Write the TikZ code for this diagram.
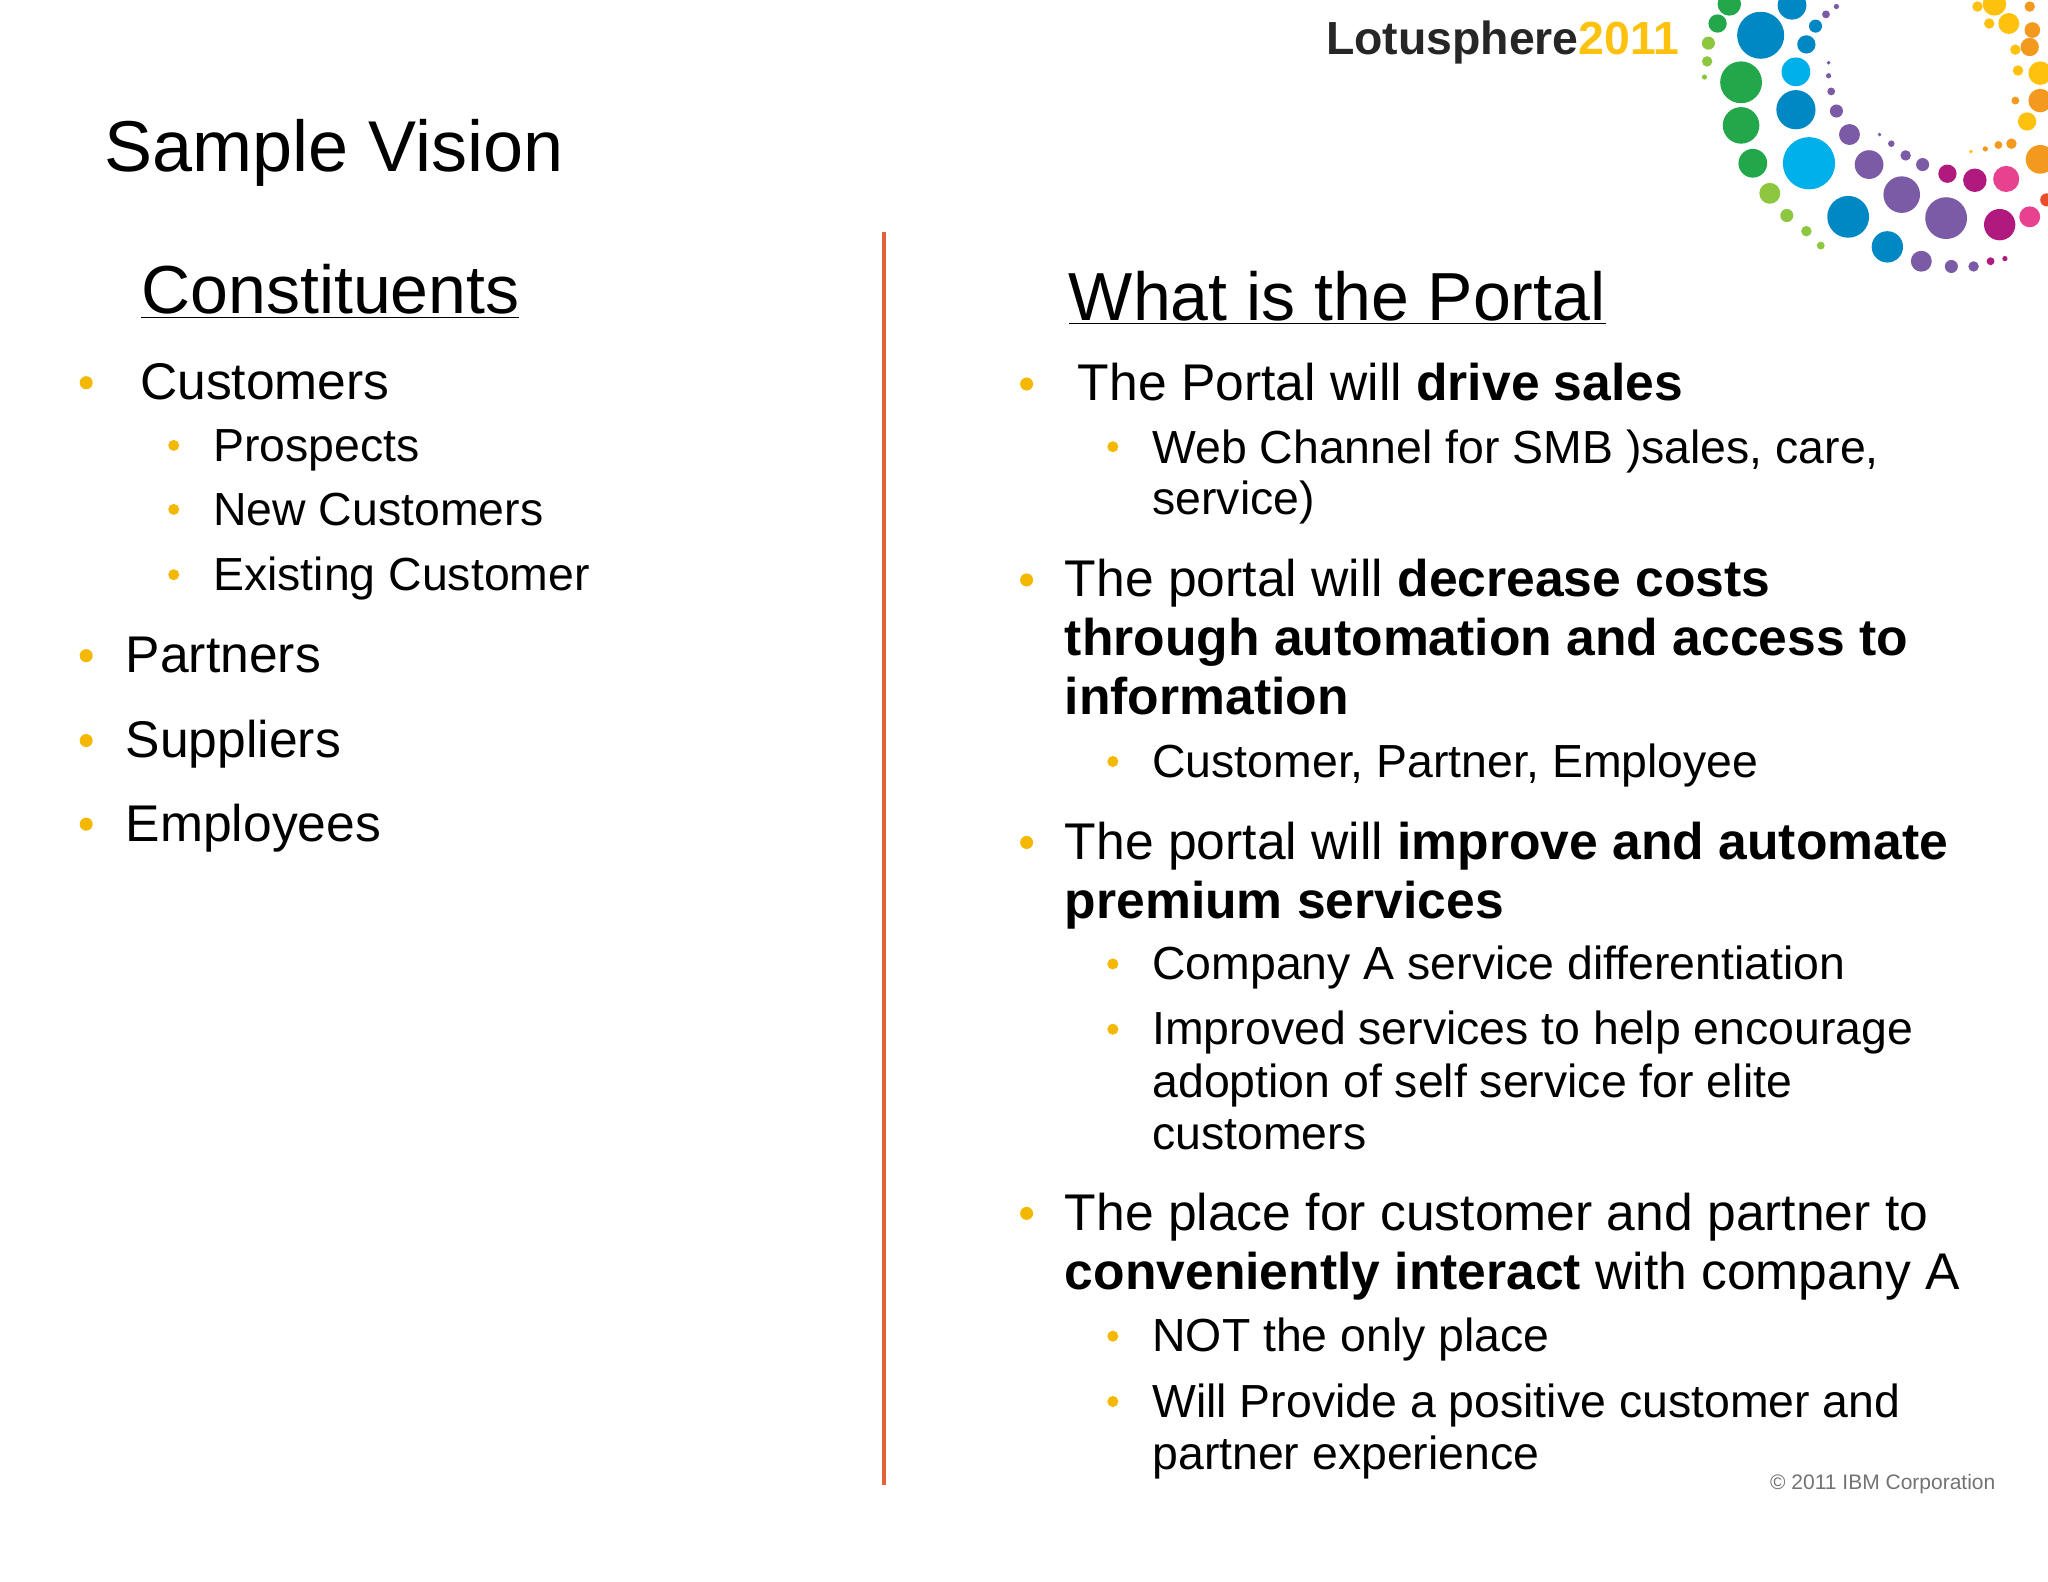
\documentclass[tikz,border=0pt]{standalone}
\usepackage{fontspec}
\setmainfont{Liberation Sans}
\definecolor{bul}{HTML}{F5B800}
\definecolor{rl}{HTML}{E2633A}
\definecolor{cg}{HTML}{22A84A}\definecolor{clg}{HTML}{8DC63F}
\definecolor{cb}{HTML}{0088C4}\definecolor{clb}{HTML}{00B0EB}
\definecolor{cp}{HTML}{7B5BA6}\definecolor{cmg}{HTML}{B0197E}
\definecolor{cpk}{HTML}{E8418F}\definecolor{crd}{HTML}{E94E2B}
\definecolor{co}{HTML}{F39A1E}\definecolor{cy}{HTML}{FDC10E}
\begin{document}
\begin{tikzpicture}[x=0.653pt,y=-0.653pt,
  t/.style={anchor=base west,inner sep=0pt},
  one/.style={t,font=\fontsize{25.8}{31}\selectfont},
  two/.style={t,font=\fontsize{23.2}{28}\selectfont},
  head/.style={t,font=\fontsize{34}{40}\selectfont},
  b1/.style={fill=bul,circle,inner sep=0pt,minimum size=6.5pt},
  b2/.style={fill=bul,circle,inner sep=0pt,minimum size=5.5pt}]
\useasboundingbox (0,0) rectangle (1568,1211);
\fill[white] (0,0) rectangle (1568,1211);
% logo dots
\foreach \x/\y/\r/\c in {1324/3/9/cg,1372/4/11/cb,1348/27/18/cb,1315/18/7/cg,1308/33/5/clg,1307/47/4/clg,1305/59/2/clg,1333/63/16/cg,1375/55/11/clb,1383/34/7/cb,1390/20/5/cb,1398/11/3/cp,1406/5/2/cp,1333/96/14/cg,1375/84/15/cb,1400/48/1.5/cp,1400/58/2/cp,1402/70/3/cp,1406/85/5/cp,1342/125/11/cg,1385/125/20/clb,1416/103/8/cp,1439/103/1.5/cp,1448/110/2.5/cp,1459/119/4/cp,1472/126/5/cp,1355/148/8/clg,1368/165/5/clg,1383/177/4/clg,1394/188/3/clg,1431/126/11/cp,1456/149/14/cp,1415/166/16/cb,1445/189/12/cb,1471/200/8/cp,1494/204/5/cp,1511/204/4/cp,1524/200/3/cmg,1535/198/2/cmg,1491/133/7/cmg,1512/138/9/cmg,1536/137/10/cpk,1490/167/16/cp,1531/172/12/cmg,1554/166/8/cpk,1567/153/5/crd,1562/122/11/co,1540/110/4/co,1530/111/3/co,1520/114/2/co,1509/116/1.5/cy,1552/93/7/cy,1562/77/9/co,1543/77/3/co,1562/56/9/cy,1545/54/4/cy,1554/36/7/co,1543/38/4/cy,1556/23/6/co,1538/18/8/cy,1523/18/4/cy,1554/5/4/co,1527/3/9/cy,1514/5/4/cy}
  \fill[fill=\c] (\x,\y) circle[radius=\r];
\node[t,font=\fontsize{23.2}{28}\bfseries\selectfont,color=black!85] (logo) at (1015,42) {Lotusphere\textcolor{cy}{2011}};
% title
\node[t,font=\fontsize{36}{42}\selectfont] (title) at (80,131) {Sample Vision};
\draw[rl,line width=2pt] (677,178) -- (677,1137);
% left
\node[head] (h1) at (108,240) {\underline{Constituents}};
\node[b1] at (66,293) {}; \node[one] (c1) at (107,306) {Customers};
\node[b2] at (133,341) {}; \node[two] at (163,353) {Prospects};
\node[b2] at (133,390) {}; \node[two] at (163,402) {New Customers};
\node[b2] at (133,440) {}; \node[two] at (163,452) {Existing Customer};
\node[b1] at (66,502) {}; \node[one] at (96,515) {Partners};
\node[b1] at (66,567) {}; \node[one] at (96,580) {Suppliers};
\node[b1] at (66,631) {}; \node[one] at (96,644) {Employees};
% right
\node[head] (h2) at (818,245) {\underline{What is the Portal}};
\node[b1] at (786,294) {}; \node[one] at (825,307) {The Portal will \textbf{drive sales}};
\node[b2] at (852,342) {}; \node[two] at (882,355) {Web Channel for SMB )sales, care,};
\node[two] at (882,394) {service)};
\node[b1] at (786,444) {}; \node[one] at (815,457) {The portal will \textbf{decrease costs}};
\node[one] at (815,502) {\textbf{through automation and access to}};
\node[one] at (815,547) {\textbf{information}};
\node[b2] at (852,583) {}; \node[two] at (882,595) {Customer, Partner, Employee};
\node[b1] at (786,645) {}; \node[one] at (815,658) {The portal will \textbf{improve and automate}};
\node[one] at (815,703) {\textbf{premium services}};
\node[b2] at (852,738) {}; \node[two] at (882,750) {Company A service differentiation};
\node[b2] at (852,788) {}; \node[two] at (882,800) {Improved services to help encourage};
\node[two] at (882,840) {adoption of self service for elite};
\node[two] at (882,880) {customers};
\node[b1] at (786,929) {}; \node[one] at (815,942) {The place for customer and partner to};
\node[one] at (815,987) {\textbf{conveniently interact} with company A};
\node[b2] at (852,1023) {}; \node[two] at (882,1035) {NOT the only place};
\node[b2] at (852,1073) {}; \node[two] at (882,1085) {Will Provide a positive customer and};
\node[two] at (882,1125) {partner experience};
\node[anchor=base east,inner sep=0pt,font=\fontsize{10.5}{13}\selectfont,color=black!55] (copy) at (1528,1140) {© 2011 IBM Corporation};
\end{tikzpicture}
\end{document}
